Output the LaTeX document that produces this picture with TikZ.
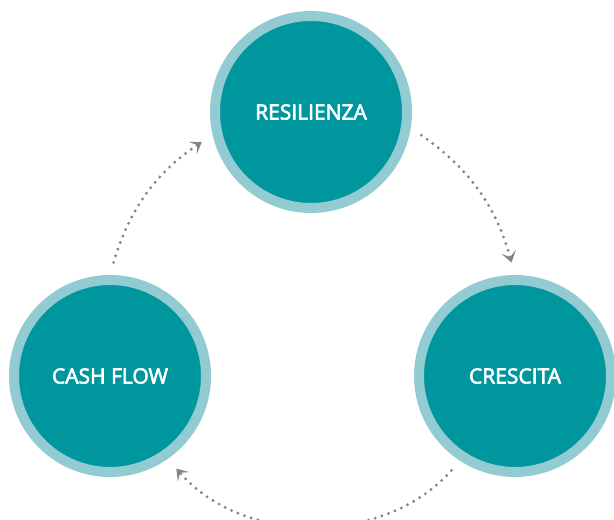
\documentclass[tikz,border=0pt]{standalone}
\usepackage{fontspec}
\newfontfamily\lblfont[FakeBold=3]{Open Sans}
\usetikzlibrary{arrows.meta}
\definecolor{tealcore}{HTML}{00969E}
\definecolor{tealring}{HTML}{92CBD1}
\definecolor{dotgray}{HTML}{858585}
\begin{document}
\begin{tikzpicture}[x=1pt, y=1pt, line join = round,
	bubble/.style = {circle, fill = tealcore, draw = tealring, line width = 10pt,
		minimum size = 192pt, inner sep = 0pt, text = white,
		font = \lblfont\fontsize{21}{24}\selectfont},
	flow/.style = {dotgray, line width = 3.2pt, line cap = round,
		dash pattern = on 0pt off 7pt, shorten < = 13pt, shorten > = 13pt,
		-{Stealth[length = 11pt, width = 15pt, inset = 5.5pt]}}]
	\useasboundingbox (0,0) rectangle (614,520);
	\path (311,408) coordinate (R)
		(110,144) coordinate (F)
		(515,144) coordinate (C);
	\node[bubble] (res) at (R) {RESILIENZA};
	\node[bubble] (cash) at (F) {CASH FLOW};
	\node[bubble] (cresc) at (C) {CRESCITA};
	\draw[flow] (cash.90) to[bend left = 20] (res.193);
	\draw[flow] (res.-9) to[bend left = 20] (cresc.90);
	\draw[flow] (cresc.237) to[bend left = 49] (cash.305);
\end{tikzpicture}
\end{document}
